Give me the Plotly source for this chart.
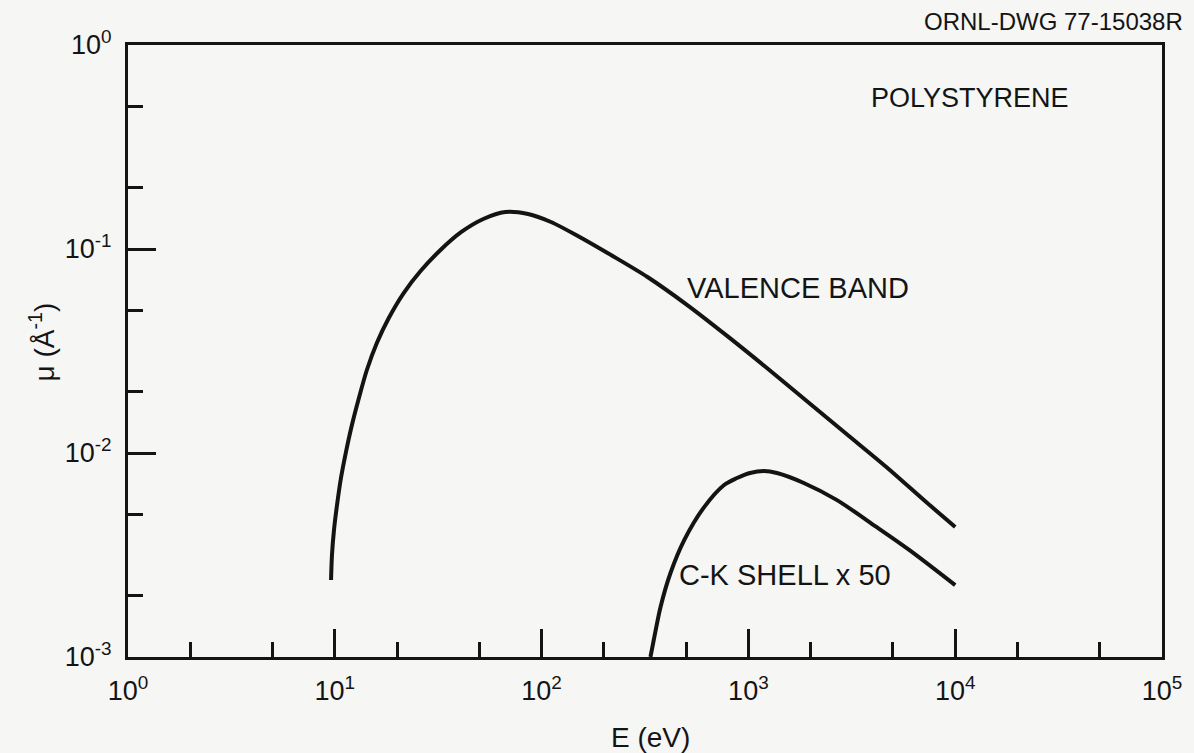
import plotly.graph_objects as go

# ---- data ----
E_valence = [9.59, 9.69, 9.91, 10.25, 10.71, 11.32, 12.10, 13.08, 14.29, 15.97, 18.24, 21.53,
             25.99, 32.44, 40.94, 52.24, 66.68, 86.0, 111.0, 149.7, 220.6, 325.1, 506.5,
             788.9, 1229, 1914, 2982, 4645, 7236, 10000]
mu_valence = [2.385e-3, 3.162e-3, 4.194e-3, 5.561e-3, 7.542e-3, 1.011e-2, 1.372e-2, 1.861e-2,
              2.552e-2, 3.461e-2, 4.589e-2, 6.085e-2, 7.80e-2, 9.888e-2, 0.1212, 0.1403,
              0.1518, 0.1484, 0.1356, 0.1158, 0.0924, 0.0729, 0.0531, 0.0375, 0.0261,
              0.01799, 0.01239, 8.54e-3, 5.75e-3, 4.34e-3]

E_ck = [336, 355, 376, 420, 490, 611, 763, 881, 1018, 1189, 1374, 1853, 2670, 4160, 5990, 10000]
mu_ck_x50 = [1.0e-3, 1.33e-3, 1.76e-3, 2.58e-3, 3.75e-3, 5.43e-3, 6.97e-3, 7.54e-3, 7.98e-3,
             8.16e-3, 7.98e-3, 7.13e-3, 5.89e-3, 4.34e-3, 3.35e-3, 2.25e-3]

x_tickvals = [1, 10, 100, 1000, 10000, 100000]
x_ticktext = ["10<sup>0</sup>", "10<sup>1</sup>", "10<sup>2</sup>", "10<sup>3</sup>",
              "10<sup>4</sup>", "10<sup>5</sup>"]
y_tickvals = [1e-3, 1e-2, 1e-1, 1]
y_ticktext = ["10<sup>-3</sup>", "10<sup>-2</sup>", "10<sup>-1</sup>", "10<sup>0</sup>"]

x_minor = [m * 10 ** d for d in range(0, 5) for m in (2, 5)]
y_minor = [m * 10 ** d for d in range(-3, 0) for m in (2, 5)]

# ---- layout geometry (pixels) ----
W, H = 1194, 753
L, R, T, B = 128, 1167, 45, 657
INK = "#141414"
BG = "#f6f6f4"
FONT = "Liberation Sans"


def px(x):
    return (x - L) / (R - L)


def py(y):
    return (B - y) / (B - T)


fig = go.Figure()
fig.add_trace(go.Scatter(x=E_valence, y=mu_valence, mode="lines",
                         line=dict(color=INK, width=4, shape="spline", smoothing=0.8),
                         cliponaxis=False, showlegend=False))
fig.add_trace(go.Scatter(x=E_ck, y=mu_ck_x50, mode="lines",
                         line=dict(color=INK, width=4, shape="spline", smoothing=0.9),
                         cliponaxis=False, showlegend=False))

axis_common = dict(
    type="log", showline=True, linewidth=3, linecolor=INK, mirror=True,
    ticks="inside", ticklen=28, tickwidth=2.5, tickcolor=INK,
    showgrid=False, zeroline=False,
    tickfont=dict(family=FONT, size=27, color=INK),
)

fig.update_xaxes(range=[0, 5], tickmode="array", tickvals=x_tickvals, ticktext=x_ticktext,
                 ticklabelstandoff=8,
                 minor=dict(ticks="inside", ticklen=15, tickwidth=2.5, tickcolor=INK,
                            tickmode="array", tickvals=x_minor, showgrid=False),
                 **axis_common)
fig.update_yaxes(range=[-3, 0], tickmode="array", tickvals=y_tickvals, ticktext=y_ticktext,
                 ticklabelstandoff=8,
                 minor=dict(ticks="inside", ticklen=15, tickwidth=2.5, tickcolor=INK,
                            tickmode="array", tickvals=y_minor, showgrid=False),
                 **axis_common)

ann = [
    dict(text="ORNL-DWG 77-15038R", x=px(1190), y=py(22), xanchor="right", yanchor="middle", size=24),
    dict(text="POLYSTYRENE", x=px(974), y=py(98), xanchor="center", yanchor="middle", size=27),
    dict(text="VALENCE BAND", x=px(801), y=py(288), xanchor="center", yanchor="middle", size=29),
    dict(text="C-K SHELL x 50", x=px(788), y=py(575), xanchor="center", yanchor="middle", size=29),
    dict(text="E (eV)", x=px(653), y=py(737), xanchor="center", yanchor="middle", size=28),
]
for a in ann:
    fig.add_annotation(text=a["text"], x=a["x"], y=a["y"], xref="paper", yref="paper",
                       xanchor=a["xanchor"], yanchor=a["yanchor"], showarrow=False,
                       font=dict(family=FONT, size=a["size"], color=INK))
fig.add_annotation(text="μ (Å<sup>-1</sup>)", x=px(42), y=py(342), xref="paper", yref="paper",
                   textangle=-90, showarrow=False, xanchor="center", yanchor="middle",
                   font=dict(family=FONT, size=28, color=INK))

fig.update_layout(width=W, height=H, margin=dict(l=L, r=W - R, t=T, b=H - B),
                  paper_bgcolor=BG, plot_bgcolor=BG, showlegend=False)

fig.write_html("out.html")
